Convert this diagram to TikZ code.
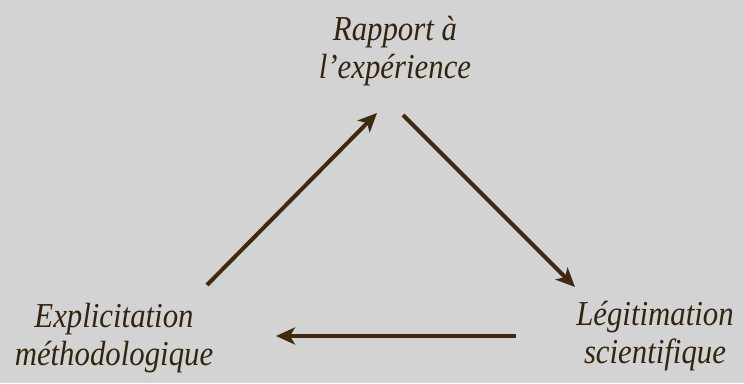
\documentclass[tikz,border=0pt]{standalone}
\usepackage{fontspec}
\setmainfont{Liberation Serif}
\newfontfamily\labelfont[FakeStretch=0.88]{Liberation Serif}
\usetikzlibrary{arrows.meta}
\definecolor{bggray}{HTML}{D3D3D3}
\definecolor{ink}{HTML}{33240F}
\definecolor{arrowink}{HTML}{3D2A10}
\begin{document}
\begin{tikzpicture}[x=1pt,y=-1pt,
  label/.style={text=ink, align=center, inner sep=0pt,
    font=\labelfont\fontsize{35}{38}\selectfont\itshape},
  flow/.style={draw=arrowink, line width=4pt,
    -{Stealth[length=19pt,width=17pt,inset=5pt]}}]
  \fill[bggray] (0,0) rectangle (744,383);
  \useasboundingbox (0,0) rectangle (744,383);

  \node[label] (exp) at (395,51) {Rapport à\\l’expérience};
  \node[label] (expl) at (114,338) {Explicitation\\méthodologique};
  \node[label] (legit) at (655,336) {Légitimation\\scientifique};

  % arrow end points around the three labels
  \coordinate (explOut) at (207,285);
  \coordinate (expIn) at (377,113);
  \coordinate (expOut) at (403,115);
  \coordinate (legitIn) at (575,287);
  \coordinate (legitOut) at (516,336);
  \coordinate (explIn) at (276,336);

  \draw[flow] (explOut) -- (expIn);
  \draw[flow] (expOut) -- (legitIn);
  \draw[flow] (legitOut) -- (explIn);
\end{tikzpicture}
\end{document}
